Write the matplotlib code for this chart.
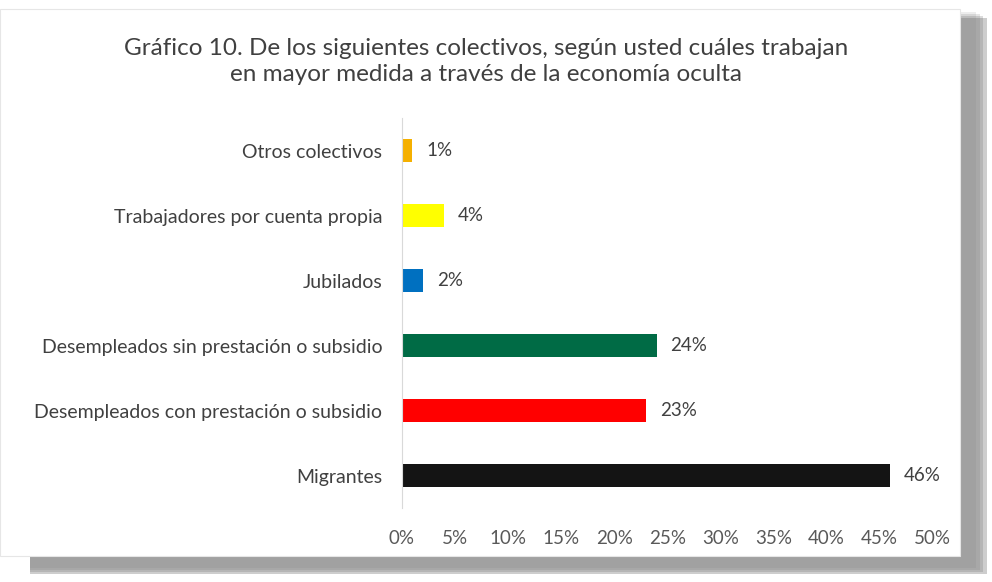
import matplotlib.pyplot as plt
from matplotlib.patches import Rectangle

categories = ['Migrantes',
              'Desempleados con prestación o subsidio',
              'Desempleados sin prestación o subsidio',
              'Jubilados',
              'Trabajadores por cuenta propia',
              'Otros colectivos']
values = [46, 23, 24, 2, 4, 1]
colors = ['#141414', '#FF0000', '#006B45', '#0070C0', '#FFFF00', '#F5B000']
ticks = [0, 5, 10, 15, 20, 25, 30, 35, 40, 45, 50]

plt.rcParams['font.family'] = ['Lato', 'DejaVu Sans']

fig = plt.figure(figsize=(9.92, 5.82), dpi=100)

# soft shadow behind the chart box (right and bottom)
for i, a in enumerate([0.12, 0.18, 0.25, 0.35]):
    off = (4 - i) * 0.007
    fig.patches.append(Rectangle((0.03, 0.01 + off * 0.5), 0.968 - off * 0.5, 0.955,
                                 transform=fig.transFigure, facecolor='#707070',
                                 alpha=a, edgecolor='none', zorder=0))
fig.patches.append(Rectangle((0.0, 0.045), 0.968, 0.94, transform=fig.transFigure,
                             facecolor='white', edgecolor='#e6e6e6', lw=0.8, zorder=1))

ax = fig.add_axes([0.405, 0.127, 0.535, 0.67])
ax.set_zorder(2)
ax.patch.set_alpha(0)

y = range(len(categories))
ax.barh(y, values, height=0.36, color=colors)
for yi, v in zip(y, values):
    ax.text(v + 1.3, yi, f'{v}%', va='center', ha='left', fontsize=13.5, color='#404040')

ax.set_xlim(0, 50)
ax.set_ylim(-0.5, 5.5)
ax.set_xticks(ticks)
ax.set_xticklabels([f'{t}%' for t in ticks], fontsize=13.5, color='#595959')
ax.set_yticks(list(y))
ax.set_yticklabels(categories, fontsize=14, color='#404040')
ax.tick_params(axis='x', length=0, pad=16)
ax.tick_params(axis='y', length=0, pad=14)
for s in ['top', 'right', 'bottom']:
    ax.spines[s].set_visible(False)
ax.spines['left'].set_color('#d9d9d9')

fig.text(0.49, 0.895, 'Gráfico 10. De los siguientes colectivos, según usted cuáles trabajan\n'
         'en mayor medida a través de la economía oculta',
         ha='center', va='center', fontsize=17.5, color='#404040', linespacing=1.3)

fig.savefig('out.png', dpi=100)
